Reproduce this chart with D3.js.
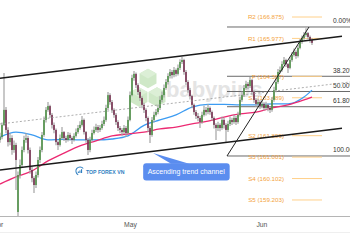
<!DOCTYPE html>
<html>
<head>
<meta charset="utf-8">
<script src="https://d3js.org/d3.v7.min.js"></script>
<style>
  body { margin: 0; background: #fff; }
  svg { display: block; font-family: "Liberation Sans", Arial, sans-serif; }
</style>
</head>
<body>
<svg id="chart_svg"></svg>
<script>
// GBP/JPY style 4h candles (one candle every 2px)
const opens = [161.72,161.84,162.35,162.98,162.14,161.63,161.80,161.30,161.51,158.70,160.25,160.67,161.30,161.72,161.80,161.30,160.46,160.12,159.83,160.25,
  160.88,161.30,161.93,162.56,162.98,163.14,162.77,162.35,162.14,161.63,161.51,161.80,162.05,161.80,161.72,161.93,161.80,161.72,161.89,162.05,
  162.22,162.35,162.56,162.05,161.72,161.30,161.72,162.01,162.14,162.26,162.14,162.22,162.39,162.56,163.06,163.60,163.31,162.98,162.77,162.47,
  162.22,162.14,162.05,162.22,162.01,162.56,163.60,164.32,164.49,164.02,163.73,163.48,163.19,162.98,162.64,162.22,161.93,162.56,162.77,162.89,
  163.06,163.40,163.60,163.90,164.15,164.40,164.57,164.44,164.65,164.49,164.74,164.99,165.07,164.57,164.15,163.81,163.56,163.19,162.89,162.72,
  162.64,162.47,162.77,162.98,162.89,163.06,162.89,162.64,162.35,162.22,162.35,162.22,162.56,162.35,162.14,162.39,162.56,162.47,162.64,162.47,
  162.77,163.40,163.60,163.90,164.07,163.98,164.23,163.73,163.40,163.23,163.31,163.14,163.23,163.06,163.19,163.06,162.98,163.40,163.81,164.15,
  164.57,164.65,164.90,165.07,164.90,164.74,165.07,165.28,165.41,165.24,165.58,165.83,165.99,166.12,166.20,166.04,165.91]
const highs = [162.02,162.45,164.53,163.10,162.25,162.00,161.92,161.70,161.60,160.40,160.90,161.45,161.90,162.01,161.90,161.40,160.60,160.20,160.40,161.00,
  161.45,162.05,162.70,163.10,163.31,163.20,162.85,162.45,162.20,161.70,161.95,162.26,162.10,161.90,162.05,162.02,161.88,162.00,162.20,162.35,
  162.50,162.72,162.62,162.10,161.80,161.85,162.15,162.28,162.40,162.35,162.35,162.52,162.70,163.20,163.73,163.68,163.40,163.05,162.85,162.55,
  162.30,162.22,162.35,162.30,162.70,163.75,164.45,164.61,164.55,164.10,163.82,163.55,163.28,163.05,162.70,162.30,162.68,162.90,163.02,163.20,
  163.55,163.75,164.05,164.28,164.52,164.70,164.65,164.78,164.72,164.88,165.10,165.20,165.12,164.65,164.22,163.90,163.62,163.25,162.98,162.85,
  162.72,162.90,163.15,163.10,163.23,163.12,162.95,162.70,162.42,162.48,162.42,162.70,162.65,162.42,162.52,162.70,162.65,162.78,162.72,162.90,
  163.52,163.75,164.02,164.20,164.15,164.36,164.28,163.80,163.48,163.45,163.38,163.38,163.30,163.32,163.25,163.12,163.52,163.95,164.28,164.70,
  164.80,165.02,165.20,165.12,164.95,165.20,165.40,165.55,165.48,165.70,165.95,166.10,166.25,166.40,166.25,166.10,165.98]
const lows = [161.60,161.75,162.30,162.00,161.45,161.50,161.10,161.18,159.62,158.53,160.10,160.55,161.20,161.60,161.15,160.30,159.95,159.50,159.70,160.15,
  160.75,161.20,161.85,162.45,162.90,162.65,162.20,162.00,161.50,161.30,161.45,161.75,161.68,161.60,161.65,161.70,161.55,161.65,161.82,161.98,
  162.15,162.28,161.95,161.60,161.09,161.20,161.65,161.95,162.05,162.02,162.05,162.15,162.30,162.48,162.98,163.20,162.85,162.65,162.35,162.10,
  162.00,161.90,161.98,161.84,161.95,162.50,163.55,164.20,163.90,163.60,163.35,163.05,162.85,162.50,162.05,161.59,161.85,162.45,162.70,162.80,
  162.98,163.30,163.50,163.82,164.05,164.30,164.30,164.35,164.38,164.42,164.65,164.90,164.45,164.02,163.70,163.42,163.05,162.78,162.60,162.50,
  162.22,162.40,162.70,162.75,162.80,162.78,162.52,162.20,161.72,162.10,162.08,162.15,162.20,161.59,162.05,162.30,162.35,162.40,162.35,162.40,
  162.70,163.32,163.52,163.82,163.85,163.90,163.62,163.28,163.10,163.15,163.02,163.05,162.95,162.98,162.92,162.85,162.90,163.32,163.72,164.08,
  164.50,164.58,164.85,164.78,164.53,164.68,165.00,165.22,165.12,165.18,165.52,165.75,165.92,166.05,165.95,165.80,165.70]
const closes = [161.84,162.35,162.98,162.14,161.63,161.80,161.30,161.51,160.88,160.25,160.67,161.30,161.72,161.80,161.30,160.46,160.12,159.83,160.25,160.88,
  161.30,161.93,162.56,162.98,163.14,162.77,162.35,162.14,161.63,161.51,161.80,162.05,161.80,161.72,161.93,161.80,161.72,161.89,162.05,162.22,
  162.35,162.56,162.05,161.72,161.30,161.72,162.01,162.14,162.26,162.14,162.22,162.39,162.56,163.06,163.60,163.31,162.98,162.77,162.47,162.22,
  162.14,162.05,162.22,162.01,162.56,163.60,164.32,164.49,164.02,163.73,163.48,163.19,162.98,162.64,162.22,161.93,162.56,162.77,162.89,163.06,
  163.40,163.60,163.90,164.15,164.40,164.57,164.44,164.65,164.49,164.74,164.99,165.07,164.57,164.15,163.81,163.56,163.19,162.89,162.72,162.64,
  162.47,162.77,162.98,162.89,163.06,162.89,162.64,162.35,162.22,162.35,162.22,162.56,162.35,162.14,162.39,162.56,162.47,162.64,162.47,162.77,
  163.40,163.60,163.90,164.07,163.98,164.23,163.73,163.40,163.23,163.31,163.14,163.23,163.06,163.19,163.06,162.98,163.40,163.81,164.15,164.57,
  164.65,164.90,165.07,164.90,164.74,165.07,165.28,165.41,165.24,165.58,165.83,165.99,166.12,166.20,166.04,165.91,165.79]

// moving averages, sampled every 8 candles
const maIdx = [0,8,16,24,32,40,48,56,64,72,80,88,96,104,112,120,128,136,144,152,156]
const maBlue = [161.84,162.05,161.93,161.72,161.74,161.72,161.72,161.76,161.89,162.33,162.56,162.77,163.10,163.21,163.21,163.19,163.19,163.23,163.23,163.52,163.81]
const maPink = [159.87,160.17,160.42,160.84,161.17,161.47,161.68,161.89,161.97,162.05,162.18,162.26,162.39,162.51,162.68,162.81,162.89,163.06,163.19,163.40,163.52]

// pivot points
const pivotNames = ["R2","R1","P","S1","S2","S3","S4","S5"]
const pivotValues = [166.875,165.977,164.387,163.489,161.899,161.001,160.102,159.203]

// fibonacci retracement of the last leg
const fibLabels = ["0.00%","38.20%","50.00%","61.80%","100.00%"]
const fibRatios = [0,0.382,0.5,0.618,1]
const fibHigh = 166.456
const fibLow = 161.047

// drawn lines: [index, price] pairs
const channelUpper = [[0,164.305],[171,166.07]]
const channelLower = [[0,160.46],[171,162.21]]
const channelMid = [[0,162.39],[175,164.15]]
const legLine = [[113.5,161.047],[154.5,166.456]]

const monthTicks = ["Apr","May","Jun"]
const monthIdx = [-1.3,65,130.7]

const calloutText = "Ascending trend channel"
const calloutAt = [93.1,160.38]
const calloutTip = [76.5,161.17]

const chartSvg = d3.select("#chart_svg")
const width = 350
const height = 250
const plotBottom = 216

chartSvg.attr('width', width).attr('height', height).style('background', '#fff')

const xScale = d3.scaleLinear().domain([0, 156]).range([0, 312])
const yScale = d3.scaleLinear().domain([158.531, 167.588]).range([plotBottom, 0])

chartSvg.append('defs').append('clipPath').attr('id', 'plot_clip')
    .append('rect').attr('x', 0).attr('y', 0).attr('width', width).attr('height', plotBottom)

//watermark - green cubes + babypips
const mark = chartSvg.append('g').attr('transform', 'translate(148, 78.5)')
const hexR = 9.8
const hexPts = (cx, cy) => d3.range(6).map(k => {
    const a = Math.PI / 180 * (60 * k - 90)
    return [cx + hexR * Math.cos(a), cy + hexR * Math.sin(a)]
})
;[[0,0],[-9,18.5],[9,18.5]].forEach(([cx, cy]) => {
    const p = hexPts(cx, cy)
    mark.append('polygon').attr('points', p.map(q => q.join(',')).join(' ')).style('fill', '#cfe8c7')
    mark.append('polygon').attr('points', [p[0], p[1], [cx, cy], p[5]].map(q => q.join(',')).join(' ')).style('fill', '#dcefd6')
})
chartSvg.append('text')
    .attr('x', 166).attr('y', 97)
    .style('font-size', '22px').style('font-weight', 'bold')
    .style('fill', '#e4e4e4')
    .text('babypips')

const plot = chartSvg.append('g').attr('clip-path', 'url(#plot_clip)')

// fib levels
const fibLevels = fibRatios.map(r => fibHigh - r * (fibHigh - fibLow))
plot.append('g').selectAll('line').data(fibLevels).enter().append('line')
    .attr('x1', xScale(113.5)).attr('x2', width)
    .attr('y1', d => yScale(d)).attr('y2', d => yScale(d))
    .style('stroke', '#6a6a6a').style('stroke-width', 1)

plot.append('g').selectAll('text').data(fibLevels).enter().append('text')
    .attr('x', 333).attr('y', d => yScale(d) - 3.5)
    .style('font-size', '6.6px').style('fill', '#333')
    .text((d, i) => fibLabels[i])

// pivot levels
plot.append('g').selectAll('line').data(pivotValues).enter().append('line')
    .attr('x1', xScale(146)).attr('x2', xScale(161))
    .attr('y1', d => yScale(d)).attr('y2', d => yScale(d))
    .style('stroke', '#ffd08a').style('stroke-width', 1)

plot.append('g').selectAll('text').data(pivotValues).enter().append('text')
    .attr('x', xScale(142)).attr('y', d => yScale(d))
    .attr('dy', '0.35em').attr('text-anchor', 'end')
    .style('font-size', '6.2px').style('fill', '#f4a340')
    .text((d, i) => `${pivotNames[i]} (${d.toFixed(3)})`)

// moving averages
const maLine = d3.line().x(d => xScale(d[0])).y(d => yScale(d[1])).curve(d3.curveMonotoneX)
plot.append('path').datum(maIdx.map((k, i) => [k, maBlue[i]]))
    .attr('d', maLine).style('fill', 'none').style('stroke', '#3d9cf2').style('stroke-width', 1.3)
plot.append('path').datum(maIdx.map((k, i) => [k, maPink[i]]))
    .attr('d', maLine).style('fill', 'none').style('stroke', '#ec2a72').style('stroke-width', 1.3)

// candles
const candles = closes.map((c, i) => ({ i, open: opens[i], high: highs[i], low: lows[i], close: c }))
plot.append('g').selectAll('line').data(candles).enter().append('line')
    .attr('x1', d => xScale(d.i)).attr('x2', d => xScale(d.i))
    .attr('y1', d => yScale(d.high)).attr('y2', d => yScale(d.low))
    .style('stroke', '#a3a3a3').style('stroke-width', 1.2)
plot.append('g').selectAll('rect').data(candles).enter().append('rect')
    .attr('x', d => xScale(d.i) - 0.7)
    .attr('width', 1.4)
    .attr('y', d => yScale(Math.max(d.open, d.close)))
    .attr('height', d => Math.max(0.8, Math.abs(yScale(d.open) - yScale(d.close))))
    .style('fill', d => d.close >= d.open ? '#3e8a35' : '#6b1b3f')

// trend channel + leg line
const segLine = d3.line().x(d => xScale(d[0])).y(d => yScale(d[1]))
plot.append('path').datum(channelMid).attr('d', segLine)
    .style('stroke', '#999').style('stroke-width', 0.8).style('stroke-dasharray', '2,2')
plot.append('path').datum(channelUpper).attr('d', segLine)
    .style('stroke', '#1a1a1a').style('stroke-width', 1.4)
plot.append('path').datum(channelLower).attr('d', segLine)
    .style('stroke', '#1a1a1a').style('stroke-width', 1.4)
plot.append('path').datum(legLine).attr('d', segLine)
    .style('stroke', '#222').style('stroke-width', 1)

// callout
const callout = chartSvg.append('g')
const cText = callout.append('text')
    .attr('x', xScale(calloutAt[0])).attr('y', yScale(calloutAt[1]))
    .attr('dy', '0.35em').attr('text-anchor', 'middle')
    .style('font-size', '7px').style('fill', '#fff')
    .text(calloutText)
const bb = cText.node().getBBox()
const box = { x: bb.x - 4.5, y: yScale(calloutAt[1]) - 8.7, w: bb.width + 9, h: 17.4 }
callout.insert('rect', 'text')
    .attr('x', box.x).attr('y', box.y).attr('width', box.w).attr('height', box.h)
    .attr('rx', 3).style('fill', '#5b8def')
callout.insert('polygon', 'text')
    .attr('points', [[xScale(calloutTip[0]), yScale(calloutTip[1])], [box.x + 28, box.y + 0.5], [box.x + 46, box.y + 0.5]].map(q => q.join(',')).join(' '))
    .style('fill', '#5b8def')

// TOP FOREX VN logo
const logo = chartSvg.append('g').attr('transform', 'translate(80, 171)')
logo.append('path').attr('d', d3.arc()({ innerRadius: 3.6, outerRadius: 4.6, startAngle: 3.6, endAngle: 7.2 }))
    .style('fill', '#2f7fc1')
;[[-2.2, 1.5], [-0.6, 2.6], [1.0, 3.8]].forEach(([bx, bh]) => {
    logo.append('rect').attr('x', bx).attr('y', 2 - bh).attr('width', 1.1).attr('height', bh).style('fill', '#2f7fc1')
})
logo.append('text').attr('x', 6).attr('y', 2.8)
    .style('font-size', '5.2px').style('font-weight', 'bold').style('fill', '#2f7fc1')
    .text('TOP FOREX VN')

// time axis
chartSvg.append('line').attr('x1', 0).attr('x2', width).attr('y1', plotBottom + 0.5).attr('y2', plotBottom + 0.5)
    .style('stroke', '#b5b5b5').style('stroke-width', 1)
chartSvg.append('line').attr('x1', 0).attr('x2', width).attr('y1', 232.5).attr('y2', 232.5)
    .style('stroke', '#efefef').style('stroke-width', 1)

const xAxis = d3.axisBottom(xScale).tickValues(monthIdx).tickFormat((d, i) => monthTicks[i]).tickSize(0).tickPadding(5.7)
const axisG = chartSvg.append('g').attr('transform', `translate(0, ${plotBottom})`).call(xAxis)
axisG.select('.domain').remove()
axisG.selectAll('text').style('font-size', '6.8px').style('fill', '#555').style('font-family', '"Liberation Sans", Arial, sans-serif')
</script>
</body>
</html>
